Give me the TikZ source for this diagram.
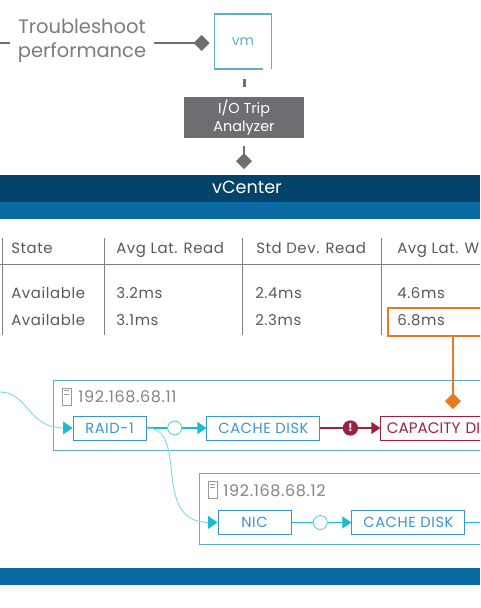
\documentclass[tikz,border=0pt]{standalone}
\usepackage{fontspec}
\setmainfont{Poppins}
\newfontfamily\widefont[LetterSpace=4]{Poppins}
\usetikzlibrary{arrows.meta,positioning,calc}
\definecolor{vmnavy}{HTML}{03436A}
\definecolor{vmblue}{HTML}{0B6AA3}
\definecolor{vmteal}{HTML}{5FAEC4}
\definecolor{vmcyan}{HTML}{1DBBD0}
\definecolor{vmtext}{HTML}{3D94CC}
\definecolor{vmred}{HTML}{9A2340}
\definecolor{vmorange}{HTML}{E57B21}
\definecolor{vmgray}{HTML}{6D6E71}
\definecolor{celltext}{HTML}{58595B}
\tikzset{
  band/.style={anchor=north west, inner sep=0pt, outer sep=0pt, minimum width=360pt},
  cell/.style={anchor=west, inner sep=0pt, text height=9.5pt, text depth=2pt,
               font=\widefont\fontsize{11.2}{13}\selectfont, text=celltext},
  rule/.style={draw=black!50, line width=0.7pt},
  hostbox/.style={anchor=north west, draw=vmteal, line width=0.7pt, inner sep=0pt, minimum height=52.5pt},
  hostip/.style={anchor=west, inner sep=0pt, font=\widefont\fontsize{12}{14}\selectfont, text=vmgray!85},
  disk/.style={draw=vmtext, fill=white, line width=0.7pt, inner sep=0pt, minimum height=18pt,
               font=\widefont\fontsize{11}{13}\selectfont, text=vmtext},
  ring/.style={circle, draw=vmcyan!70, fill=white, line width=0.7pt, inner sep=0pt, minimum size=10.5pt},
  srv/.style={draw=vmgray!70, fill=white, line width=0.5pt, inner sep=0pt, minimum width=6.5pt, minimum height=13pt},
  link/.style={-{Triangle[length=6.8pt,width=9pt]}, draw=vmcyan, line width=0.9pt},
  curve/.style={draw=vmcyan!55, line width=0.7pt, arrows={-{Triangle[length=7pt,width=9.5pt,vmcyan]}}},
  probe/.style={-{Diamond[length=12pt,width=12pt]}, line width=1.2pt},
}
\begin{document}
\begin{tikzpicture}[x=0.75pt,y=-0.75pt]
  \useasboundingbox[fill=white] (0,0) rectangle (480,608);
  \clip (0,0) rectangle (480,608);
  % top row
  \coordinate (lft) at (0,43);
  \node[align=center, inner sep=6pt, font=\fontsize{14.6}{18}\selectfont, text=vmgray!90] (trouble) at (82,41) {Troubleshoot\\performance};
  \node[minimum width=42pt, minimum height=41pt, inner sep=0pt,
        font=\fontsize{10.5}{12}\selectfont, text=vmteal] (vmbox) at (243,41.5) {vm};
  \draw[draw=vmteal, line width=1pt] (vmbox.south east) -- (vmbox.north east) -- (vmbox.north west)
    -- (vmbox.south west) -- ($(vmbox.south east)+(-6pt,0)$);
  \draw[draw=vmgray, line width=1.2pt] (lft) -- (trouble.west |- lft);
  \draw[probe, draw=vmgray, color=vmgray, shorten >=3.75pt] (trouble.east |- lft) -- (vmbox.west |- lft);
  \node[fill=vmgray, minimum width=90pt, minimum height=31pt, inner sep=0pt, align=center,
        font=\fontsize{10.8}{12.6}\selectfont, text=white, below=20.5pt of vmbox.south, xshift=0.75pt] (iotrip)
        {\raisebox{2pt}{I/O Trip}\\\raisebox{1pt}{Analyzer}};
  \coordinate (tick) at ($(vmbox.south)!0.5!(iotrip.north)$);
  \draw[draw=vmgray, line width=1.6pt] ($(tick)+(0.75pt,-3pt)$) -- ($(tick)+(0.75pt,3pt)$);
  % bands
  \node[band, fill=vmnavy, minimum height=20.25pt] (vcenter) at (0,175) {};
  \node[text=white, font=\fontsize{13.2}{15}\selectfont, inner sep=0pt] (vclabel) at (247,187.5) {vCenter};
  \node[band, fill=vmblue, minimum height=12.75pt] (vcband) at (0,202) {};
  \node[band, fill=vmblue, minimum height=12.75pt] (botband) at (0,568) {};
  \coordinate (probetop) at (244,146);
  \draw[probe, draw=vmgray, color=vmgray] (probetop) -- (244,169);
  % table
  \foreach \x in {2,104,242,381} \draw[rule] (\x,238) -- (\x,335);
  \draw[rule] (0,264) -- (480,264);
  \node[cell] (hstate) at (11,248) {State};
  \node[cell] (hread) at (116,248) {Avg Lat. Read};
  \node[cell] (hstd) at (256,248) {Std Dev. Read};
  \node[cell] (hwrite) at (397,248) {Avg Lat. W};
  \node[cell] (a1) at (11,293) {Available};
  \node[cell] (a2) at (116,293) {3.2ms};
  \node[cell] (a3) at (255,293) {2.4ms};
  \node[cell] (a4) at (397,293) {4.6ms};
  \node[cell] (b1) at (11,320) {Available};
  \node[cell] (b2) at (116,320) {3.1ms};
  \node[cell] (b3) at (255,320) {2.3ms};
  \node[cell] (b4) at (397,320) {6.8ms};
  \node[anchor=north west, draw=vmorange, line width=1.8pt, inner sep=0pt, minimum width=90pt, minimum height=21pt] (hilite) at (387,307) {};
  % hosts
  \node[hostbox, minimum width=375pt] (host1) at (53,380) {};
  \node[srv] (srv1) at (66.5,396.5) {};
  \node[hostip, right=5.25pt of srv1] (ip1) {192.168.68.11};
  \node[hostbox, minimum width=250pt, minimum height=53pt] (host2) at (199,473) {};
  \node[srv] (srv2) at (212.5,490) {};
  \node[hostip, right=4.5pt of srv2, yshift=-0.75pt] (ip2) {192.168.68.12};
  \foreach \s in {srv1,srv2} {
    \draw[draw=vmgray!70, line width=0.7pt] ($(\s.north)+(-2pt,-2.5pt)$) -- ($(\s.north)+(2pt,-2.5pt)$);
    \draw[draw=vmgray!70, line width=0.7pt] ($(\s.north)+(-2pt,-5pt)$) -- ($(\s.north)+(2pt,-5pt)$);
  }
  \node[disk, minimum width=54.75pt] (raid) at (109.5,428) {RAID-1};
  \node[disk, minimum width=84.75pt, right=45pt of raid] (cache1) {CACHE DISK};
  \node[disk, draw=vmred, text=vmred, right=45pt of cache1, inner xsep=4.5pt, text width=75.75pt, align=left,
        font=\fontsize{11.4}{13}\selectfont] (capdisk) {CAPACITY DI};
  \node[disk, minimum width=54.75pt] (nic) at (254.5,522.5) {NIC};
  \node[disk, minimum width=84.75pt, right=45pt of nic] (cache2) {CACHE DISK};
  \coordinate (rgt) at (480,522.5);
  \coordinate (feed) at (0,392);
  % connectors
  \draw[link] (raid) -- node[ring, pos=0.47] (ring1) {} (cache1);
  \draw[link] (nic) -- node[ring, pos=0.48] (ring2) {} (cache2);
  \draw[draw=vmcyan, line width=0.9pt] (cache2) -- (rgt);
  \draw[-{Triangle[length=6.8pt,width=9pt]}, draw=vmred, line width=1pt] (cache1) -- node[circle, fill=vmred, text=white, inner sep=0pt, minimum size=11.5pt, font=\fontsize{8}{8}\bfseries\selectfont] (alert) {!} (capdisk);
  \draw[curve] (feed) .. controls (28,392) and (28,428) .. (raid.west);
  \draw[curve] (raid.east) .. controls (190,428) and (150,522) .. (nic.west);
  % orange probe
  \draw[probe, draw=vmorange, color=vmorange, line width=1.8pt] (hilite.south -| 453,335) -- (453,409);
\end{tikzpicture}
\end{document}
